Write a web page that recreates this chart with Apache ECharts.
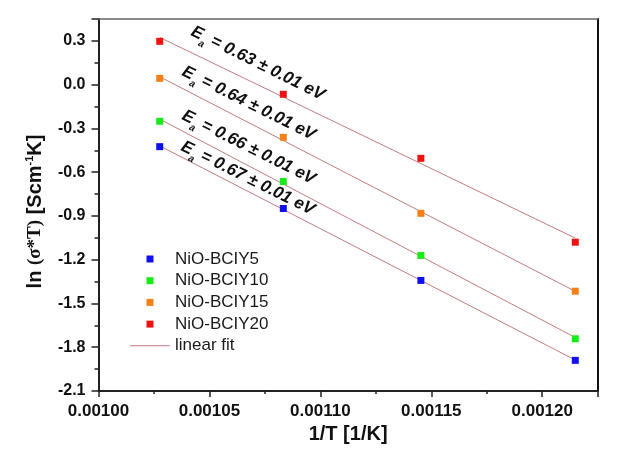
<!DOCTYPE html>
<html><head><meta charset="utf-8">
<script src="https://cdn.jsdelivr.net/npm/echarts@6/dist/echarts.min.js"></script>
<style>html,body{margin:0;padding:0;background:#fff}#c{width:624px;height:458px}</style>
</head><body><div id="c"></div>
<script>
// ---------------- data ----------------
const invT = [0.0010276, 0.0010833, 0.0011453, 0.0012149];          // 1/T [1/K]
const seriesNames = ['NiO-BCIY5', 'NiO-BCIY10', 'NiO-BCIY15', 'NiO-BCIY20'];
const bciy5  = [-0.425, -0.849, -1.342, -1.890];
const bciy10 = [-0.251, -0.664, -1.171, -1.742];
const bciy15 = [ 0.043, -0.361, -0.882, -1.416];
const bciy20 = [ 0.297, -0.066, -0.505, -1.080];
const activationEnergies = ['0.67', '0.66', '0.64', '0.63'];        // eV, same order as series
const eaError = '0.01';
const fitName = 'linear fit';
const xTickValues = [0.00100, 0.00105, 0.00110, 0.00115, 0.00120];
const yTickValues = [-2.1, -1.8, -1.5, -1.2, -0.9, -0.6, -0.3, 0.0, 0.3];

// ---------------- styling / layout ----------------
const FONT = '"Liberation Sans", Arial, sans-serif';
const colors = ['#1010ee', '#18ec18', '#f5801a', '#ee1212'];
const fitColor = '#c47c7c';
const xMin = 0.00100, xMax = 0.001225, xStep = 0.00005;
const yMin = -2.1, yMax = 0.45, yStep = 0.3;
// annotation anchor (left of "E", in data coords) per series
const annotationAnchors = [[0.0010377, -0.417], [0.0010381, -0.205], [0.0010381, 0.097], [0.0010422, 0.371]];
const annotationRotation = -26.5 * Math.PI / 180;
const squareIcon = 'path://M0,0L10,0L10,10L0,10Z';
const lineIcon = 'path://M0,0L40,0L40,1L0,1Z';

const allY = [bciy5, bciy10, bciy15, bciy20];

function linearFit(xs, ys) {
  const n = xs.length;
  const mx = xs.reduce((a, b) => a + b, 0) / n;
  const my = ys.reduce((a, b) => a + b, 0) / n;
  let sxx = 0, sxy = 0;
  for (let i = 0; i < n; i++) { sxx += (xs[i] - mx) ** 2; sxy += (xs[i] - mx) * (ys[i] - my); }
  const b = sxy / sxx, a = my - b * mx;
  return [[xs[0], a + b * xs[0]], [xs[n - 1], a + b * xs[n - 1]]];
}

function isOnStep(v, step, list) {
  return list.some(t => Math.abs(t - v) < step * 1e-4);
}

const series = [];
allY.forEach((ys) => {
  series.push({
    type: 'line', name: fitName, data: linearFit(invT, ys), symbol: 'none', showSymbol: false,
    lineStyle: { color: fitColor, width: 1 }, itemStyle: { color: fitColor },
    z: 2, silent: true, animation: false
  });
});
allY.forEach((ys, i) => {
  series.push({
    type: 'scatter', name: seriesNames[i], data: invT.map((x, j) => [x, ys[j]]),
    symbol: 'rect', symbolSize: 7, itemStyle: { color: colors[i], opacity: 1 },
    z: 3, silent: true, animation: false
  });
});

const chart = echarts.init(document.getElementById('c'), null, { renderer: 'canvas' });
chart.setOption({
  animation: false,
  backgroundColor: '#fff',
  textStyle: { fontFamily: FONT },
  grid: { left: 98.5, right: 26.3, top: 19, bottom: 67, containLabel: false, outerBoundsMode: 'none' },
  legend: {
    data: seriesNames.map(n => ({ name: n, icon: squareIcon })).concat([{ name: fitName, icon: lineIcon }]),
    orient: 'vertical', left: 130, top: 250.5, padding: 0,
    itemWidth: 40, itemHeight: 7, itemGap: 4.7, selectedMode: false, symbolKeepAspect: true,
    itemStyle: { opacity: 1 },
    textStyle: { fontSize: 17, color: '#1a1a1a', fontFamily: FONT }
  },
  xAxis: [{
    type: 'value', min: xMin, max: xMax, interval: xStep, position: 'bottom',
    axisLine: { show: true, onZero: false, lineStyle: { color: '#222', width: 2 } },
    axisTick: { show: true, length: 6, lineStyle: { color: '#222', width: 1.5 } },
    minorTick: { show: true, splitNumber: 2, length: 3, lineStyle: { color: '#222', width: 1.5 } },
    splitLine: { show: false }, minorSplitLine: { show: false },
    axisLabel: {
      fontSize: 17, fontWeight: 'bold', color: '#111', margin: 12, fontFamily: FONT,
      formatter: v => isOnStep(v, xStep, xTickValues) ? v.toFixed(5) : ''
    },
    name: '1/T [1/K]', nameLocation: 'middle', nameGap: 33,
    nameTextStyle: { fontSize: 20, fontWeight: 'bold', color: '#111', fontFamily: FONT }
  }, {
    type: 'value', min: xMin, max: xMax, position: 'top',
    axisLine: { show: true, onZero: false, lineStyle: { color: '#666', width: 1.5 } },
    axisTick: { show: false }, axisLabel: { show: false }, splitLine: { show: false }
  }],
  yAxis: [{
    type: 'value', min: yMin, max: yMax, interval: yStep, position: 'left',
    axisLine: { show: true, onZero: false, lineStyle: { color: '#222', width: 2 } },
    axisTick: { show: true, length: 7, lineStyle: { color: '#222', width: 1.5 } },
    minorTick: { show: true, splitNumber: 2, length: 4, lineStyle: { color: '#222', width: 1.5 } },
    splitLine: { show: false }, minorSplitLine: { show: false },
    axisLabel: {
      fontSize: 16, fontWeight: 'bold', color: '#111', margin: 13, fontFamily: FONT,
      formatter: v => isOnStep(v, yStep, yTickValues) ? v.toFixed(1) : ''
    },
    name: '{b|ln }{s|(σ*T)}{b| [Scm}{sup|-1}{b|K]}',
    nameLocation: 'middle', nameGap: 52,
    nameTextStyle: {
      padding: [0, 13, 0, 0],
      rich: {
        b: { fontSize: 20, fontWeight: 'bold', color: '#111', fontFamily: FONT, lineHeight: 22 },
        s: { fontSize: 19, fontWeight: 'bold', color: '#111', fontFamily: '"Liberation Serif", "Times New Roman", serif', lineHeight: 22 },
        sup: { fontSize: 11, fontWeight: 'bold', color: '#111', fontFamily: FONT, verticalAlign: 'top', lineHeight: 11 }
      }
    }
  }, {
    type: 'value', min: yMin, max: yMax, position: 'right',
    axisLine: { show: true, onZero: false, lineStyle: { color: '#111', width: 2 } },
    axisTick: { show: false }, axisLabel: { show: false }, splitLine: { show: false }
  }],
  series: series
});

// rotated activation-energy annotations, anchored in data coordinates
const graphics = annotationAnchors.map((anc, i) => {
  const p = chart.convertToPixel({ xAxisIndex: 0, yAxisIndex: 0 }, anc);
  return {
    type: 'text', x: p[0], y: p[1], rotation: annotationRotation, silent: true, z: 10,
    style: {
      text: '{m|E}{s|a}{m| = ' + activationEnergies[i] + ' ± ' + eaError + ' eV}',
      align: 'left', verticalAlign: 'middle',
      rich: {
        m: { fontSize: 17, fontWeight: 'bold', fontStyle: 'italic', fill: '#111', fontFamily: FONT, lineHeight: 26, verticalAlign: 'middle' },
        s: { fontSize: 10, fontWeight: 'bold', fontStyle: 'italic', fill: '#111', fontFamily: FONT, lineHeight: 10, verticalAlign: 'bottom' }
      }
    }
  };
});
chart.setOption({ graphic: graphics });
</script>
</body></html>
